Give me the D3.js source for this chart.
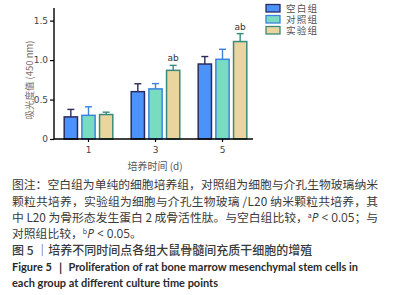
<!DOCTYPE html>
<html>
<head>
<meta charset="utf-8">
<script src="https://cdn.jsdelivr.net/npm/d3@7"></script>
<style>
  body { margin: 0; background: #fff; }
  svg { display: block; font-family: "DejaVu Sans", sans-serif; }
  .cap { font-family: "Noto Sans CJK SC", sans-serif; fill: #3a3a3a; }
  .en { font-family: "Lato", "Open Sans", sans-serif; font-weight: 700; fill: #2a2a2a; }
</style>
</head>
<body>
<svg class="main" width="393" height="295"></svg>
<script>
const days = ["1", "3", "5"];
const groups = ["空白组", "对照组", "实验组"];
const blankMean = [0.28, 0.60, 0.95];
const blankSd = [0.095, 0.10, 0.095];
const ctrlMean = [0.30, 0.635, 1.01];
const ctrlSd = [0.108, 0.067, 0.127];
const expMean = [0.31, 0.87, 1.235];
const expSd = [0.03, 0.063, 0.10];
const sigLabels = ["", "ab", "ab"]; // over the 实验组 bars
const yTicks = [0, 0.5, 1.0, 1.5];

const fills = ["#4b92fb", "#79dcc1", "#e9d59d"];
const strokes = ["#2b2c5c", "#3e82e0", "#3a8a7b"];

const series = [
  { name: groups[0], mean: blankMean, sd: blankSd },
  { name: groups[1], mean: ctrlMean, sd: ctrlSd },
  { name: groups[2], mean: expMean, sd: expSd, sig: sigLabels }
];

const svg = d3.select(".main");

const x = d3.scaleBand().domain(days).range([55, 256]);
const xIn = d3.scaleBand().domain(groups).range([-25, 25]).paddingInner(0.17);
const y = d3.scaleLinear().domain([0, 1.66]).range([139, 8]);

// bars
series.forEach((s, si) => {
  const g = svg.append("g");
  days.forEach((d, i) => {
    const bx = x(d) + x.bandwidth() / 2 + xIn(s.name);
    const cx = bx + xIn.bandwidth() / 2;
    // error bar
    g.append("line")
      .attr("x1", cx).attr("x2", cx)
      .attr("y1", y(s.mean[i])).attr("y2", y(s.mean[i] + s.sd[i]))
      .attr("stroke", strokes[si]).attr("stroke-width", 1.4);
    g.append("line")
      .attr("x1", cx - 3.5).attr("x2", cx + 3.5)
      .attr("y1", y(s.mean[i] + s.sd[i])).attr("y2", y(s.mean[i] + s.sd[i]))
      .attr("stroke", strokes[si]).attr("stroke-width", 1.4);
    g.append("rect")
      .attr("x", bx + 0.7)
      .attr("width", xIn.bandwidth() - 1.4)
      .attr("y", y(s.mean[i]))
      .attr("height", y(0) - y(s.mean[i]))
      .attr("fill", fills[si])
      .attr("stroke", strokes[si])
      .attr("stroke-width", 1.5);
    if (s.sig && s.sig[i]) {
      g.append("text")
        .attr("x", cx)
        .attr("y", y(s.mean[i] + s.sd[i]) - 4)
        .attr("text-anchor", "middle")
        .attr("font-size", 9)
        .attr("fill", "#333")
        .text(s.sig[i]);
    }
  });
});

// y axis
const yAxis = svg.append("g")
  .attr("transform", "translate(54,0)")
  .call(d3.axisLeft(y).tickValues(yTicks).tickSize(4).tickPadding(2)
    .tickFormat(d => d === 0 ? "0" : d3.format(".1f")(d)));
yAxis.select(".domain").attr("stroke-width", 1.4).attr("d", "M0,8V139");
yAxis.selectAll(".tick line").attr("stroke-width", 1.2);
yAxis.selectAll("text").attr("font-size", 9).attr("fill", "#444")
  .attr("font-family", "DejaVu Sans, sans-serif");

// x axis
const xAxis = svg.append("g")
  .attr("transform", "translate(0,139)")
  .call(d3.axisBottom(x).tickSize(3).tickSizeOuter(0).tickPadding(5));
xAxis.select(".domain").attr("stroke-width", 1.4).attr("d", "M54,0H253");
xAxis.selectAll(".tick line").attr("stroke-width", 1.2);
xAxis.selectAll("text").attr("font-size", 9).attr("fill", "#444")
  .attr("font-family", "DejaVu Sans, sans-serif");

// axis titles
svg.append("text")
  .attr("x", 155).attr("y", 170)
  .attr("text-anchor", "middle")
  .attr("font-size", 10)
  .attr("fill", "#555")
  .attr("font-family", "Noto Sans CJK SC, sans-serif")
  .text("培养时间 (d)");

svg.append("text")
  .attr("transform", "translate(33,80) rotate(-90)")
  .attr("text-anchor", "middle")
  .attr("font-size", 9.5)
  .attr("fill", "#7a6c6c")
  .attr("font-family", "Noto Sans CJK SC, sans-serif")
  .text("吸光度值 (450 nm)");

// legend
const legend = svg.append("g").attr("transform", "translate(266,4.5)");
groups.forEach((name, i) => {
  const row = legend.append("g").attr("transform", `translate(0,${i * 11})`);
  row.append("rect")
    .attr("width", 14).attr("height", 7.5)
    .attr("fill", fills[i]).attr("stroke", strokes[i]).attr("stroke-width", 1.3);
  row.append("text")
    .attr("x", 20).attr("y", 4).attr("dy", "0.35em")
    .attr("font-size", 9.6).attr("fill", "#555")
    .attr("textLength", 31).attr("lengthAdjust", "spacing")
    .attr("font-family", "Noto Sans CJK SC, sans-serif")
    .text(name);
});

// caption
const capX = 12;
svg.append("text").attr("class", "cap").attr("x", capX).attr("y", 189)
  .attr("font-size", 11.8).attr("textLength", 366).attr("lengthAdjust", "spacing")
  .text("图注：空白组为单纯的细胞培养组，对照组为细胞与介孔生物玻璃纳米");
svg.append("text").attr("class", "cap").attr("x", capX).attr("y", 205.5)
  .attr("font-size", 11.8).attr("textLength", 366).attr("lengthAdjust", "spacing")
  .text("颗粒共培养，实验组为细胞与介孔生物玻璃 /L20 纳米颗粒共培养，其");
const l3 = svg.append("text").attr("class", "cap").attr("x", capX).attr("y", 221.8)
  .attr("font-size", 11.8).attr("textLength", 366).attr("lengthAdjust", "spacing");
l3.append("tspan").text("中 L20 为骨形态发生蛋白 2 成骨活性肽。与空白组比较，");
l3.append("tspan").attr("font-size", 7).attr("dy", -4).text("a");
l3.append("tspan").attr("dy", 4).attr("font-style", "italic").attr("font-family", "Open Sans, sans-serif").text("P");
l3.append("tspan").attr("font-family", "Open Sans, sans-serif").text(" < 0.05");
l3.append("tspan").text("；与");
const l4 = svg.append("text").attr("class", "cap").attr("x", capX).attr("y", 238)
  .attr("font-size", 11.8);
l4.append("tspan").text("对照组比较，");
l4.append("tspan").attr("font-size", 7).attr("dy", -4).text("b");
l4.append("tspan").attr("dy", 4).attr("font-style", "italic").attr("font-family", "Open Sans, sans-serif").text("P");
l4.append("tspan").attr("font-family", "Open Sans, sans-serif").text(" < 0.05");
l4.append("tspan").text("。");

svg.append("text").attr("class", "cap").attr("x", capX).attr("y", 254.5)
  .attr("font-size", 12).attr("font-weight", 500).attr("fill", "#222")
  .text("图 5 ｜培养不同时间点各组大鼠骨髓间充质干细胞的增殖");

svg.append("text").attr("class", "en").attr("x", capX).attr("y", 270.5)
  .attr("font-size", 10.8).attr("textLength", 346).attr("lengthAdjust", "spacingAndGlyphs")
  .text("Figure 5  ｜ Proliferation of rat bone marrow mesenchymal stem cells in");
svg.append("text").attr("class", "en").attr("x", capX).attr("y", 286.5)
  .attr("font-size", 10.8).attr("textLength", 206).attr("lengthAdjust", "spacingAndGlyphs")
  .text("each group at different culture time points");
</script>
</body>
</html>
